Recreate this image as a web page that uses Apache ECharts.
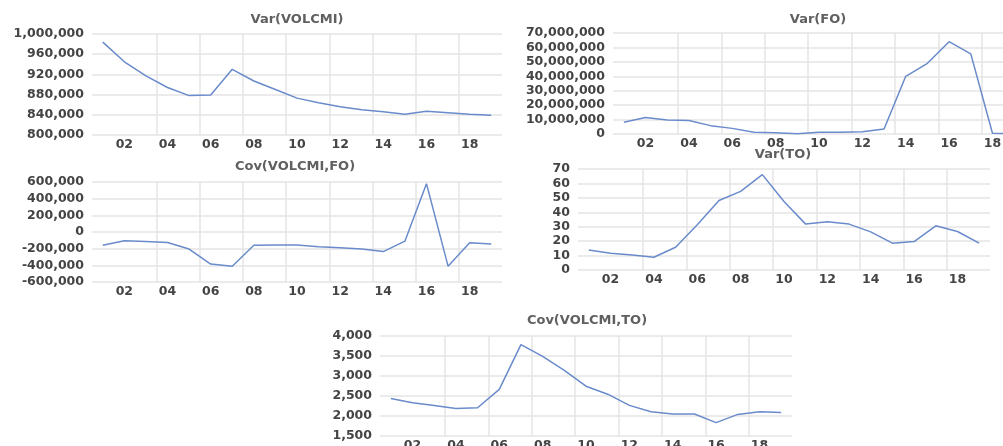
<!DOCTYPE html>
<html>
<head>
<meta charset="utf-8">
<script src="https://cdn.jsdelivr.net/npm/echarts@6/dist/echarts.min.js"></script>
<style>
  html, body { margin: 0; padding: 0; background: #fff; }
  #main { width: 1003px; height: 446px; }
</style>
</head>
<body>
<div id="main"></div>
<script>
// years 2001..2019, shown as two-digit labels
const years = ['01', '02', '03', '04', '05', '06', '07', '08', '09', '10',
  '11', '12', '13', '14', '15', '16', '17', '18', '19'];

const varVolcmi = [984000, 945000, 917000, 894000, 878000, 879000, 930000, 907000, 890000, 873000,
  864000, 856000, 850000, 846000, 841000, 847000, 844000, 841000, 839000];
const varFo = [8100000, 11400000, 9700000, 9300000, 5800000, 3900000, 1200000, 800000, 200000, 1200000,
  1200000, 1500000, 3500000, 40000000, 49000000, 64000000, 55500000, 500000, 300000];
const covVolcmiFo = [-160000, -105000, -115000, -125000, -205000, -385000, -410000, -160000, -155000, -155000,
  -178000, -188000, -205000, -235000, -110000, 580000, -410000, -130000, -145000];
const varTo = [13.9, 11.6, 10.4, 8.8, 15.8, 31.3, 48.2, 54.5, 66.1, 47.5,
  31.8, 33.4, 31.8, 26.4, 18.6, 19.7, 30.6, 26.7, 18.6];
const covVolcmiTo = [2440, 2330, 2265, 2190, 2205, 2665, 3785, 3490, 3140, 2745,
  2545, 2265, 2105, 2050, 2050, 1835, 2040, 2105, 2085];

// panel titles and y axis ranges
const titles = ['Var(VOLCMI)', 'Var(FO)', 'Cov(VOLCMI,FO)', 'Var(TO)', 'Cov(VOLCMI,TO)'];
const yRanges = [
  [800000, 1000000, 40000],
  [0, 70000000, 10000000],
  [-600000, 600000, 200000],
  [0, 70, 10],
  [1500, 4000, 500]
];
const seriesData = [varVolcmi, varFo, covVolcmiFo, varTo, covVolcmiTo];

// layout of each panel: grid box and title centre
const panels = [
  { left: 92, top: 34, width: 410, height: 101, tx: 297, ty: 13 },
  { left: 613, top: 33, width: 412, height: 101, tx: 818, ty: 13 },
  { left: 92, top: 182, width: 410, height: 100, tx: 295, ty: 160 },
  { left: 578, top: 169, width: 412, height: 101, tx: 783, ty: 148 },
  { left: 380, top: 336, width: 412, height: 100, tx: 587, ty: 314 }
];

const textColor = '#444';
const gridColor = '#e4e4e4';
const lineColor = '#6a8bcb';
const font = 'DejaVu Sans';

const chart = echarts.init(document.getElementById('main'), null, { renderer: 'canvas' });

const option = {
  animation: false,
  backgroundColor: '#fff',
  title: panels.map((p, i) => ({
    text: titles[i],
    left: p.tx,
    top: p.ty,
    textAlign: 'center',
    padding: 0,
    textStyle: { fontFamily: font, fontSize: 13, fontWeight: 'bold', color: '#606060' }
  })),
  grid: panels.map(p => ({
    left: p.left, top: p.top, width: p.width, height: p.height,
    containLabel: false,
    outerBoundsMode: 'none'
  })),
  xAxis: panels.map((p, i) => ({
    type: 'category',
    gridIndex: i,
    data: years,
    boundaryGap: true,
    axisLine: { show: false },
    axisTick: { show: false },
    axisLabel: {
      interval: (idx) => idx % 2 === 1,
      margin: 3,
      color: textColor,
      fontFamily: font,
      fontSize: 12.5,
      fontWeight: 'bold'
    },
    splitLine: {
      show: true,
      showMinLine: false,
      showMaxLine: false,
      interval: (idx) => idx % 2 === 1,
      lineStyle: { color: gridColor, width: 1.5 }
    }
  })),
  yAxis: panels.map((p, i) => ({
    type: 'value',
    gridIndex: i,
    min: yRanges[i][0],
    max: yRanges[i][1],
    interval: yRanges[i][2],
    axisLine: { show: false },
    axisTick: { show: false },
    axisLabel: {
      margin: 8,
      color: textColor,
      fontFamily: font,
      fontSize: 12.5,
      fontWeight: 'bold',
      formatter: (v) => v.toLocaleString('en-US')
    },
    splitLine: { show: true, lineStyle: { color: gridColor, width: 1.5 } }
  })),
  series: seriesData.map((d, i) => ({
    type: 'line',
    xAxisIndex: i,
    yAxisIndex: i,
    data: d,
    symbol: 'none',
    smooth: false,
    lineStyle: { color: lineColor, width: 1.5 }
  }))
};

chart.setOption(option);
</script>
</body>
</html>
